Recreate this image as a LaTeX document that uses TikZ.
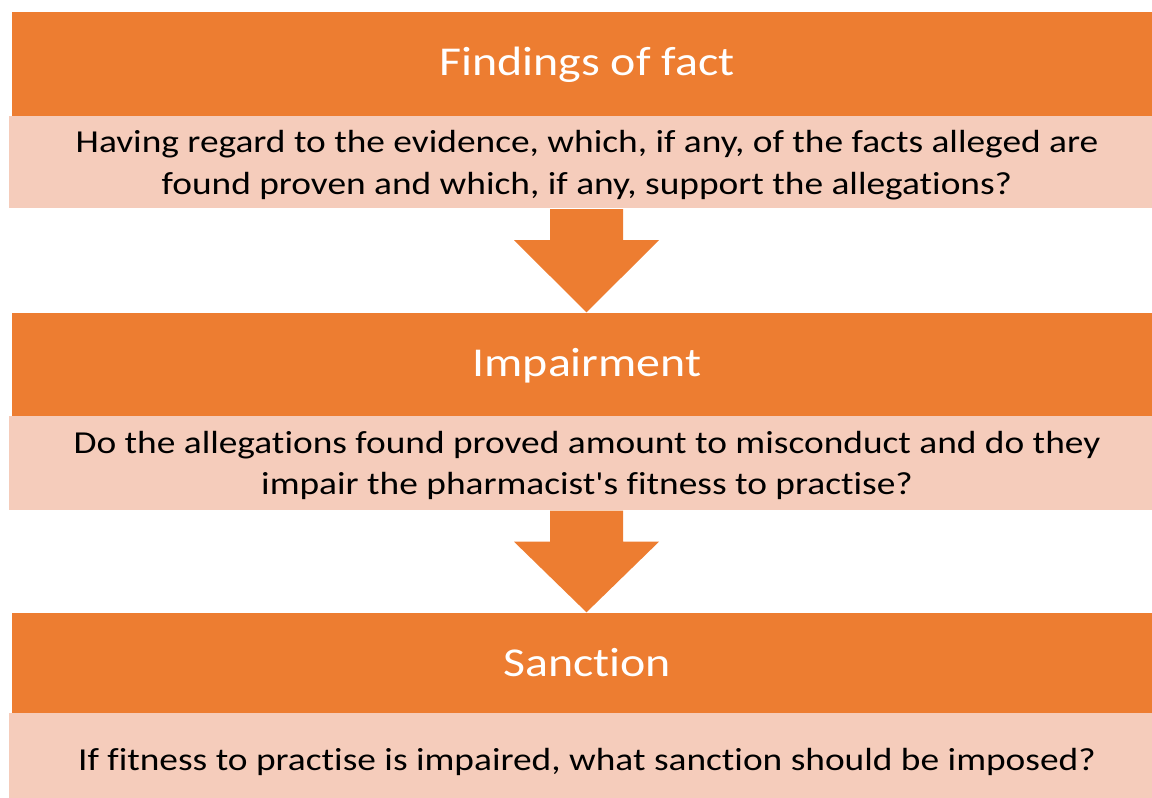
\documentclass[tikz,border=0pt]{standalone}
\usepackage{graphicx}
\usepackage{fontspec}
\setmainfont{Carlito}[Ligatures={TeXOff,NoCommon}]
\usetikzlibrary{calc}
\definecolor{hdrorange}{HTML}{ED7D31}
\definecolor{bodypeach}{HTML}{F5CCBB}
\newcommand{\wide}[1]{\scalebox{1.168}[1]{#1}}
\begin{document}
\begin{tikzpicture}[x=1pt,y=-1pt,
  hdrbox/.style={fill=hdrorange, draw=none, inner sep=0, minimum width=1149pt},
  bodybox/.style={fill=bodypeach, draw=none, inner sep=0, minimum width=1155pt},
  hdrtext/.style={text=white, font=\fontsize{41}{49}\selectfont, anchor=base, inner sep=0},
  bodytext/.style={text=black, font=\fontsize{32}{42}\selectfont, anchor=base, inner sep=0},
  flowarrow/.style={fill=hdrorange, draw=none}]
\useasboundingbox (0,0) rectangle (1152,798);

% stage 1
\node[hdrbox, minimum height=104pt] (h1) at (586.5,64) {};
\node[bodybox, minimum height=92pt] (l1) at (586.5,162) {};
\node[hdrtext] (t1) at (587,75.7) {\wide{Findings of fact}};
\node[bodytext] (b1a) at (587,152) {\wide{Having regard to the evidence, which, if any, of the facts alleged are}};
\node[bodytext] (b1b) at (587,194) {\wide{found proven and which, if any, support the allegations?}};

% stage 2
\node[hdrbox, minimum height=103pt] (h2) at (586.5,364.5) {};
\node[bodybox, minimum height=94pt] (l2) at (586.5,463) {};
\node[hdrtext] (t2) at (587,376.7) {\wide{Impairment}};
\node[bodytext] (b2a) at (587,453) {\wide{Do the allegations found proved amount to misconduct and do they}};
\node[bodytext] (b2b) at (587,494) {\wide{impair the pharmacist's fitness to practise?}};

% stage 3
\node[hdrbox, minimum height=100pt] (h3) at (586.5,663) {};
\node[bodybox, minimum height=92pt] (l3) at (586.5,759) {};
\node[hdrtext] (t3) at (587,676.7) {\wide{Sanction}};
\node[bodytext] (b3a) at (587,770) {\wide{If fitness to practise is impaired, what sanction should be imposed?}};

% arrows
\coordinate (a1) at ($(l1.south)+(0,1)$);
\fill[flowarrow] ($(a1)+(-36.5,0)$) -- ($(a1)+(36.5,0)$) -- ($(a1)+(36.5,31)$) -- ($(a1)+(72.5,31)$)
  -- ($(h2.north)+(0,-0.5)$) -- ($(a1)+(-72.5,31)$) -- ($(a1)+(-36.5,31)$) -- cycle;
\coordinate (a2) at ($(l2.south)+(0,0.5)$);
\fill[flowarrow] ($(a2)+(-36.5,0)$) -- ($(a2)+(36.5,0)$) -- ($(a2)+(36.5,31)$) -- ($(a2)+(72.5,31)$)
  -- ($(h3.north)+(0,-0.5)$) -- ($(a2)+(-72.5,31)$) -- ($(a2)+(-36.5,31)$) -- cycle;
\end{tikzpicture}
\end{document}
